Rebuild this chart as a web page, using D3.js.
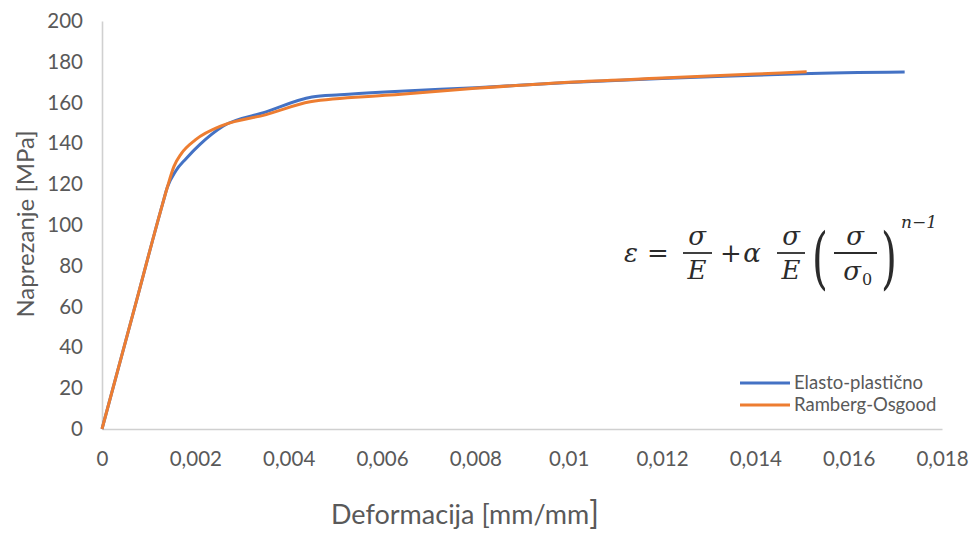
<!DOCTYPE html>
<html>
<head>
<meta charset="utf-8">
<script src="https://cdn.jsdelivr.net/npm/d3@7"></script>
<style>
  body { margin: 0; background: #fff; }
  svg text { font-family: Lato, 'Open Sans', sans-serif; fill: #595959; }
  .formula text { font-family: 'DejaVu Serif', 'Liberation Serif', serif; fill: #2b2b2b; }
</style>
</head>
<body>
<svg id="chart" width="974" height="533"></svg>
<script>
// strain [mm/mm] and stress [MPa]
const elastoStrain = [0, 0.0007, 0.0013, 0.0014, 0.00158, 0.0018, 0.0021, 0.0026, 0.0035, 0.0045, 0.0051, 0.00617, 0.008, 0.01, 0.012, 0.014, 0.015, 0.0172];
const elastoStress = [0, 59.5, 110.5, 118.5, 126.5, 132.5, 139.5, 148.5, 155.3, 162.7, 163.8, 165.3, 167.3, 169.8, 171.8, 173.4, 174.2, 175];
const rambergStrain = [0, 0.0007, 0.0013, 0.0014, 0.00154, 0.0017, 0.002, 0.0026, 0.0035, 0.00446, 0.00617, 0.008, 0.01, 0.012, 0.014, 0.0151];
const rambergStress = [0, 59.5, 110.5, 118.5, 128.6, 135, 141.7, 149, 154, 160.4, 163.7, 167, 170, 172, 174, 175.1];
const xTicks = [0, 0.002, 0.004, 0.006, 0.008, 0.01, 0.012, 0.014, 0.016, 0.018];
const yTicks = [0, 20, 40, 60, 80, 100, 120, 140, 160, 180, 200];
const seriesNames = ['Elasto-plastično', 'Ramberg-Osgood'];
const seriesColors = ['#4472C4', '#ED7D31'];

const svg = d3.select('#chart');
const margin = { top: 21, right: 32, bottom: 104, left: 102 };
const width = 974, height = 533;

const x = d3.scaleLinear().domain([0, 0.018]).range([margin.left, width - margin.right]);
const y = d3.scaleLinear().domain([0, 200]).range([height - margin.bottom, margin.top]);

const fmtX = (v) => String(+v.toFixed(3)).replace('.', ',');

// axes
const xAxis = svg.append('g').attr('transform', `translate(0,${y(0)})`)
  .call(d3.axisBottom(x).tickValues(xTicks).tickFormat(fmtX).tickSize(0).tickPadding(22));
const yAxis = svg.append('g').attr('transform', `translate(${x(0)},0)`)
  .call(d3.axisLeft(y).tickValues(yTicks).tickSize(0).tickPadding(19));
[xAxis, yAxis].forEach((g) => {
  g.select('.domain').attr('stroke', '#d0d0d0').attr('stroke-width', 1.6);
  g.selectAll('text').style('font-size', '20.5px').attr('fill', '#595959');
});

// series
const series = [
  elastoStrain.map((e, i) => ({ e, s: elastoStress[i] })),
  rambergStrain.map((e, i) => ({ e, s: rambergStress[i] }))
];
const line = d3.line().x((d) => x(d.e)).y((d) => y(d.s)).curve(d3.curveMonotoneX);
series.forEach((data, i) => {
  svg.append('path').datum(data).attr('fill', 'none').attr('stroke', seriesColors[i])
    .attr('stroke-width', 3).attr('stroke-linejoin', 'round').attr('d', line);
});

// axis titles
svg.append('text').attr('transform', 'translate(34,224) rotate(-90)').attr('text-anchor', 'middle')
  .style('font-size', '24px').text('Naprezanje [MPa]');
const xt = svg.append('text').attr('x', 331).attr('y', 524).style('font-size', '27px');
xt.append('tspan').text('Deformacija [mm/mm');
xt.append('tspan').style('font-size', '32px').text(']');

// legend
const legend = svg.append('g');
seriesNames.forEach((name, i) => {
  const ly = 383 + i * 22;
  legend.append('line').attr('x1', 740).attr('x2', 790).attr('y1', ly).attr('y2', ly)
    .attr('stroke', seriesColors[i]).attr('stroke-width', 3);
  legend.append('text').attr('x', 794).attr('y', ly + 6).style('font-size', '18.5px').text(name);
});

// Ramberg-Osgood formula
const f = svg.append('g').attr('class', 'formula');
const t = (tx, ty, s, size = 26, style = 'italic') => f.append('text').attr('x', tx).attr('y', ty)
  .attr('text-anchor', 'middle').style('font-size', `${size}px`).style('font-style', style).text(s);
const bar = (x1, x2) => f.append('line').attr('x1', x1).attr('x2', x2).attr('y1', 253).attr('y2', 253)
  .attr('stroke', '#2b2b2b').attr('stroke-width', 1.8);
const paren = (px, s) => f.append('text').attr('transform', `translate(${px},281) scale(0.6,1)`)
  .attr('text-anchor', 'middle').style('font-size', '68px').style('font-weight', '300').text(s);
t(631, 262, 'ε');
t(658, 262, '=', 26, 'normal');
t(697, 245, 'σ'); bar(683, 712); t(697, 279, 'E');
t(731, 262, '+', 26, 'normal');
t(752, 262, 'α');
t(791, 245, 'σ'); bar(777, 805); t(791, 279, 'E');
paren(820, '(');
t(855, 245, 'σ'); bar(834, 877); t(852, 280, 'σ');
f.append('text').attr('x', 862).attr('y', 285).style('font-size', '16px').text('0');
paren(889, ')');
f.append('text').attr('x', 901).attr('y', 228).style('font-size', '17px').style('font-style', 'italic').text('n−1');
</script>
</body>
</html>
